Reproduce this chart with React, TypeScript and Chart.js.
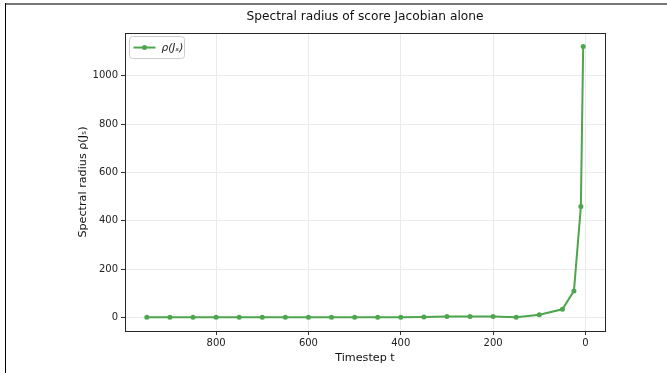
import React, { useEffect, useRef } from 'react';
import { Chart, registerables } from 'chart.js';

Chart.register(...registerables);

const timesteps = [950, 900, 850, 800, 750, 700, 650, 600, 550, 500, 450, 400, 350, 300, 250, 200, 150, 100, 50, 25, 10, 5];
const rhoValues = [1, 1, 1, 1, 1, 1, 1, 1, 1, 1, 1, 1, 1.5, 4, 4, 4, 1, 11, 34, 110, 459, 1121];
const xTicks = [0, 200, 400, 600, 800];
const yTicks = [0, 200, 400, 600, 800, 1000];
const chartTitle = 'Spectral radius of score Jacobian alone';
const seriesLabel = 'ρ(Jₛ)';
const xLabel = 'Timestep t';
const yLabel = 'Spectral radius ρ(Jₛ)';

const FONT = "'DejaVu Sans', sans-serif";
const LINE_COLOR = '#4da64d';

const framePlugin = {
  id: 'frameAndLegend',
  afterDraw(chart: any) {
    const { ctx, chartArea: a } = chart;
    ctx.save();
    ctx.strokeStyle = '#262626';
    ctx.lineWidth = 1;
    ctx.strokeRect(Math.round(a.left) + 0.5, Math.round(a.top) + 0.5, Math.round(a.right - a.left), Math.round(a.bottom - a.top));

    // legend box inside plot (upper left)
    const bx = a.left + 4.5;
    const by = a.top + 3.5;
    const bw = 55;
    const bh = 22;
    const r = 3;
    ctx.beginPath();
    ctx.moveTo(bx + r, by);
    ctx.lineTo(bx + bw - r, by);
    ctx.quadraticCurveTo(bx + bw, by, bx + bw, by + r);
    ctx.lineTo(bx + bw, by + bh - r);
    ctx.quadraticCurveTo(bx + bw, by + bh, bx + bw - r, by + bh);
    ctx.lineTo(bx + r, by + bh);
    ctx.quadraticCurveTo(bx, by + bh, bx, by + bh - r);
    ctx.lineTo(bx, by + r);
    ctx.quadraticCurveTo(bx, by, bx + r, by);
    ctx.closePath();
    ctx.fillStyle = 'rgba(255,255,255,0.8)';
    ctx.fill();
    ctx.strokeStyle = '#cccccc';
    ctx.stroke();

    const ly = by + bh / 2;
    ctx.strokeStyle = LINE_COLOR;
    ctx.lineWidth = 2;
    ctx.beginPath();
    ctx.moveTo(bx + 4, ly);
    ctx.lineTo(bx + 26, ly);
    ctx.stroke();
    ctx.fillStyle = LINE_COLOR;
    ctx.beginPath();
    ctx.arc(bx + 15, ly, 2.5, 0, Math.PI * 2);
    ctx.fill();

    ctx.fillStyle = '#222';
    ctx.font = `italic 10.5px ${FONT}`;
    ctx.textBaseline = 'middle';
    ctx.textAlign = 'left';
    ctx.fillText(chart.data.datasets[0].label, bx + 32, ly + 0.5);
    ctx.restore();
  },
};

export default function App() {
  const ref = useRef<HTMLCanvasElement | null>(null);

  useEffect(() => {
    document.body.style.margin = '0';
    const canvas = ref.current;
    if (!canvas) return;
    const chart = new Chart(canvas, {
      type: 'line',
      data: {
        datasets: [
          {
            label: seriesLabel,
            data: timesteps.map((t, i) => ({ x: t, y: rhoValues[i] })),
            borderColor: LINE_COLOR,
            backgroundColor: LINE_COLOR,
            borderWidth: 2,
            pointRadius: 2.5,
            pointHoverRadius: 2.5,
            pointBorderWidth: 0,
            tension: 0,
          },
        ],
      },
      options: {
        responsive: false,
        animation: false,
        devicePixelRatio: 1,
        layout: { padding: { left: 72, right: 62, top: 0, bottom: 4 } },
        plugins: {
          legend: { display: false },
          tooltip: { enabled: false },
          title: {
            display: true,
            text: chartTitle,
            fullSize: false,
            color: '#111',
            font: { family: FONT, size: 12.2, weight: 'normal' },
            padding: { top: 10, bottom: 8.4 },
          },
        },
        scales: {
          x: {
            type: 'linear',
            reverse: true,
            min: -42.25,
            max: 997.25,
            afterFit: (s: any) => { s.height = 38; },
            afterBuildTicks: (s: any) => { s.ticks = xTicks.map((v) => ({ value: v })); },
            ticks: { color: '#222', font: { family: FONT, size: 10 }, padding: 2, maxRotation: 0, callback: (v: any) => String(v) },
            grid: { color: '#ebebeb', tickColor: '#333', tickLength: 4, lineWidth: 1 },
            border: { display: true, color: '#262626' },
            title: { display: true, text: xLabel, color: '#111', font: { family: FONT, size: 11.2 } },
          },
          y: {
            type: 'linear',
            min: -56,
            max: 1177,
            afterFit: (s: any) => { s.width = 53; },
            afterBuildTicks: (s: any) => { s.ticks = yTicks.map((v) => ({ value: v })); },
            ticks: { color: '#222', font: { family: FONT, size: 10 }, padding: 3, callback: (v: any) => String(v) },
            grid: { color: '#ebebeb', tickColor: '#333', tickLength: 4, lineWidth: 1 },
            border: { display: true, color: '#262626' },
            title: { display: true, text: yLabel, color: '#111', font: { family: FONT, size: 11.2 } },
          },
        },
      },
      plugins: [framePlugin],
    });
    return () => chart.destroy();
  }, []);

  return (
    <div style={{ position: 'relative', width: 667, height: 373, background: '#fff', overflow: 'hidden' }}>
      <canvas ref={ref} width={667} height={373} style={{ display: 'block' }} />
      <div style={{ position: 'absolute', left: 5, top: 3, right: 0, height: 2, background: '#777' }} />
      <div style={{ position: 'absolute', left: 5, top: 3, bottom: 0, width: 1, background: '#000' }} />
    </div>
  );
}
